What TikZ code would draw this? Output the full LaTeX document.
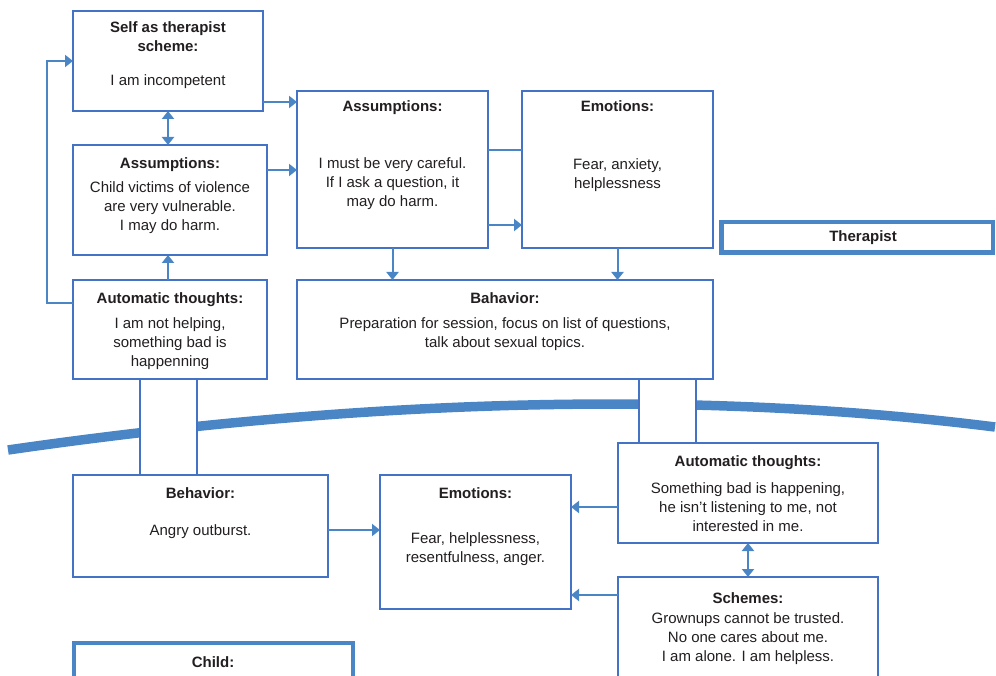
\documentclass[tikz,border=0pt]{standalone}
\usepackage{fontspec}
\setmainfont{Liberation Sans}
\usetikzlibrary{arrows.meta,calc}
\definecolor{bord}{RGB}{68,114,196}
\definecolor{arrc}{RGB}{74,134,198}
\definecolor{txtc}{RGB}{35,31,32}
\begin{document}
\begin{tikzpicture}[x=1pt,y=-1pt,
  box/.style={draw=bord, line width=1.3pt, fill=white, inner sep=0pt, outer sep=0pt},
  heavybox/.style={draw=arrc, line width=4.5pt, fill=white, inner sep=0pt, outer sep=0pt},
  txt/.style={anchor=north, align=center, inner sep=0pt, font=\fontsize{15}{19}\selectfont, text=txtc},
  arr/.style={draw=arrc, line width=2pt, -{Triangle[length=8pt,width=12pt]}},
  darr/.style={draw=arrc, line width=2pt, {Triangle[length=8pt,width=12pt]}-{Triangle[length=8pt,width=12pt]}},
  ln/.style={draw=arrc, line width=2pt},
  gap/.style={draw=bord, line width=1.2pt, fill=white},
  arc/.style={draw=arrc, line width=9.5pt}
]
\useasboundingbox (0,0) rectangle (996,676);
\clip (0,0) rectangle (996,676);

% dividing curve
\draw[arc] (8,450) .. controls (388,395) and (717,392) .. (995,427);

% boxes
\node[box, minimum width=190pt, minimum height=100pt] (self) at (168,61) {};
\node[box, minimum width=194pt, minimum height=110pt] (asmL) at (170,200) {};
\node[box, minimum width=194pt, minimum height=99pt] (autoL) at (170,329.5) {};
\node[box, minimum width=191pt, minimum height=157pt] (asmM) at (392.5,169.5) {};
\node[box, minimum width=191pt, minimum height=157pt] (emoT) at (617.5,169.5) {};
\node[heavybox, minimum width=271.5pt, minimum height=30.5pt] (ther) at (857,237.5) {};
\node[box, minimum width=416pt, minimum height=99pt] (behT) at (505,329.5) {};
\node[box, minimum width=255pt, minimum height=102pt] (behL) at (200.5,526) {};
\node[box, minimum width=191pt, minimum height=134pt] (emoB) at (475.5,542) {};
\node[box, minimum width=260pt, minimum height=100pt] (autoR) at (748,493) {};
\node[box, minimum width=260pt, minimum height=123pt] (sch) at (748,638.5) {};
\node[heavybox, minimum width=279pt, minimum height=77pt] (child) at (213.5,681.5) {};

% links across the curve
\draw[gap] (autoL.south -| 140,0) rectangle (behL.north -| 197,0);
\draw[gap] (behT.south -| 639,0) rectangle (autoR.north -| 696,0);

% connectors
\coordinate (loopA) at (47,303);
\coordinate (loopB) at (47,61);
\draw[arr] (self.east |- 0,102) -- (asmM.west |- 0,102);
\draw[darr] (self.south) -- (self.south |- asmL.north);
\draw[arr] (asmL.east |- 0,170) -- (asmM.west |- 0,170);
\draw[arr] (autoL.north -| self.south) -- (asmL.south -| self.south);
\draw[arr] (autoL.west |- loopA) -- (loopA) -- (loopB) -- (self.west);
\draw[ln] (asmM.east |- 0,150) -- (emoT.west |- 0,150);
\draw[arr] (asmM.east |- 0,225) -- (emoT.west |- 0,225);
\draw[arr] (asmM.south) -- (behT.north -| asmM.south);
\draw[arr] (emoT.south) -- (behT.north -| emoT.south);
\draw[arr] (behL.east |- 0,530) -- (emoB.west |- 0,530);
\draw[arr] (autoR.west |- 0,507) -- (emoB.east |- 0,507);
\draw[arr] (sch.west |- 0,595) -- (emoB.east |- 0,595);
\draw[darr] (autoR.south) -- (sch.north);

% texts
\node[txt] (selfT) at (168,21.4) {\textbf{Self as therapist}\\\textbf{scheme:}\\[15pt]I am incompetent};
\node[txt] (asmLT) at (170,157.4) {\textbf{Assumptions:}\\[5pt]Child victims of violence\\are very vulnerable.\\I may do harm.};
\node[txt] (autoLT) at (170,292.4) {\textbf{Automatic thoughts:}\\[6pt]I am not helping,\\something bad is\\happenning};
\node[txt] (asmMT) at (392.5,100.4) {\textbf{Assumptions:}\\[38pt]I must be very careful.\\If I ask a question, it\\may do harm.};
\node[txt] (emoTT) at (617.5,100.4) {\textbf{Emotions:}\\[39pt]Fear, anxiety,\\helplessness};
\node[txt] (therT) at (863,230.4) {\textbf{Therapist}};
\node[txt] (behTT) at (505,292.4) {\textbf{Bahavior:}\\[6pt]Preparation for session, focus on list of questions,\\talk about sexual topics.};
\node[txt] (behLT) at (200.5,487.4) {\textbf{Behavior:}\\[18pt]Angry outburst.};
\node[txt] (emoBT) at (475.5,487.4) {\textbf{Emotions:}\\[26pt]Fear, helplessness,\\resentfulness, anger.};
\node[txt] (autoRT) at (748,455.4) {\textbf{Automatic thoughts:}\\[8pt]Something bad is happening,\\he isn’t listening to me, not\\interested in me.};
\node[txt] (schT) at (748,592.4) {\textbf{Schemes:}\\[1pt]Grownups cannot be trusted.\\No one cares about me.\\I am alone. I am helpless.};
\node[txt] (childT) at (213,656.4) {\textbf{Child:}};
\end{tikzpicture}
\end{document}
